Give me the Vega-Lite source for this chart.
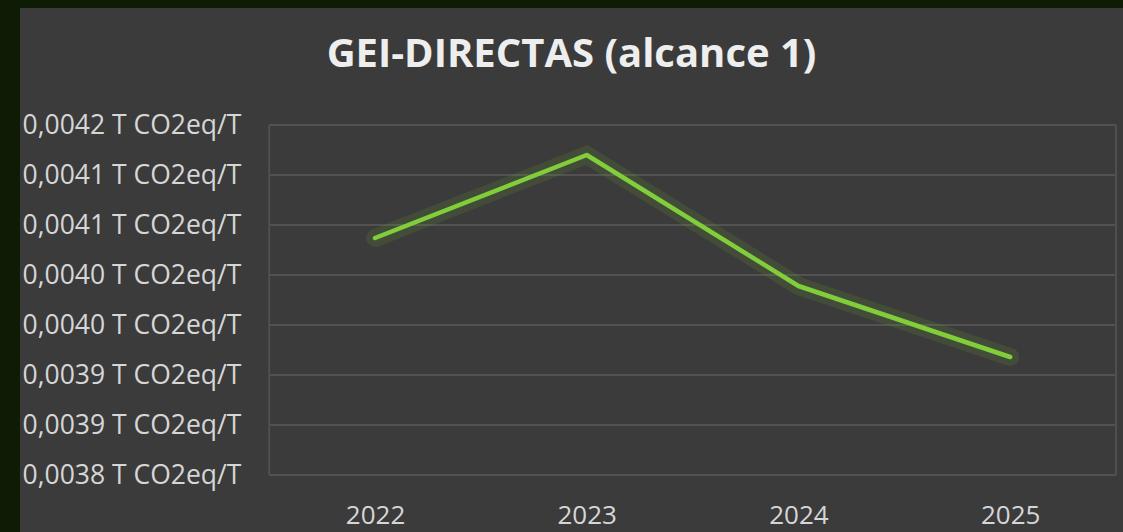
{
  "$schema": "https://vega.github.io/schema/vega-lite/v6.json",
  "width": 1103,
  "height": 524,
  "autosize": {"type": "none"},
  "padding": {"left": 20, "top": 8, "right": 0, "bottom": 0},
  "background": "#0e1c06",
  "config": {"view": {"fill": "#3b3b3b", "stroke": null}, "font": "Open Sans"},
  "title": {
    "text": "GEI-DIRECTAS (alcance 1)",
    "fontSize": 40,
    "fontWeight": "bold",
    "color": "#eeeeee",
    "font": "Open Sans",
    "anchor": "middle",
    "baseline": "alphabetic",
    "offset": -99
  },
  "datasets": {
    "emissions": [
      {"year": 2022, "value": 0.004037},
      {"year": 2023, "value": 0.00412},
      {"year": 2024, "value": 0.003989},
      {"year": 2025, "value": 0.003918}
    ],
    "ticks": [
      {"v": 0.0038}, {"v": 0.00385}, {"v": 0.0039}, {"v": 0.00395},
      {"v": 0.004}, {"v": 0.00405}, {"v": 0.0041}, {"v": 0.00415}
    ],
    "edges": [{"yr": 2021.5}, {"yr": 2025.5}]
  },
  "layer": [
    {
      "data": {"name": "ticks"},
      "mark": {"type": "rule", "color": "#525252", "strokeWidth": 2},
      "encoding": {
        "y": {"field": "v", "type": "quantitative", "scale": {"domain": [0.003743, 0.004267], "nice": false, "zero": false}},
        "x": {"datum": 2021.5, "type": "quantitative", "scale": {"domain": [2020.323, 2025.533], "nice": false, "zero": false}},
        "x2": {"datum": 2025.5}
      }
    },
    {
      "data": {"name": "edges"},
      "mark": {"type": "rule", "color": "#505050", "strokeWidth": 2},
      "encoding": {
        "x": {"field": "yr", "type": "quantitative", "scale": {"domain": [2020.323, 2025.533], "nice": false, "zero": false}},
        "y": {"datum": 0.00415, "type": "quantitative", "scale": {"domain": [0.003743, 0.004267], "nice": false, "zero": false}},
        "y2": {"datum": 0.0038}
      }
    },
    {
      "data": {"name": "emissions"},
      "mark": {"type": "line", "color": "#6fae2c", "strokeWidth": 18, "opacity": 0.15, "strokeCap": "round"},
      "encoding": {
        "x": {"field": "year", "type": "quantitative", "scale": {"domain": [2020.323, 2025.533], "nice": false, "zero": false}},
        "y": {"field": "value", "type": "quantitative", "scale": {"domain": [0.003743, 0.004267], "nice": false, "zero": false}}
      }
    },
    {
      "data": {"name": "emissions"},
      "mark": {"type": "line", "color": "#80cf3a", "strokeWidth": 4.5, "strokeCap": "round", "strokeJoin": "round"},
      "encoding": {
        "x": {
          "field": "year",
          "type": "quantitative",
          "scale": {"domain": [2020.323, 2025.533], "nice": false, "zero": false},
          "axis": {
            "values": [2022, 2023, 2024, 2025],
            "format": "d",
            "labelFontSize": 26,
            "labelColor": "#d6d6d6",
            "domain": false,
            "ticks": false,
            "grid": false,
            "labelPadding": -9,
            "labelBaseline": "alphabetic",
            "labelFlush": false,
            "labelOverlap": false,
            "title": null
          }
        },
        "y": {
          "field": "value",
          "type": "quantitative",
          "scale": {"domain": [0.003743, 0.004267], "nice": false, "zero": false},
          "axis": {
            "values": [0.0038, 0.00385, 0.0039, 0.00395, 0.004, 0.00405, 0.0041, 0.00415],
            "labelExpr": "replace(format(datum.value + 1e-9, '.4f'), '.', ',') + ' T CO2eq/T'",
            "domain": false,
            "ticks": false,
            "grid": false,
            "labelAlign": "left",
            "labelBaseline": "middle",
            "labelPadding": -2,
            "labelFontSize": 26.5,
            "labelLimit": 400,
            "labelColor": "#d6d6d6",
            "labelFlush": false,
            "labelOverlap": false,
            "labelBound": false,
            "title": null
          }
        }
      }
    }
  ]
}
